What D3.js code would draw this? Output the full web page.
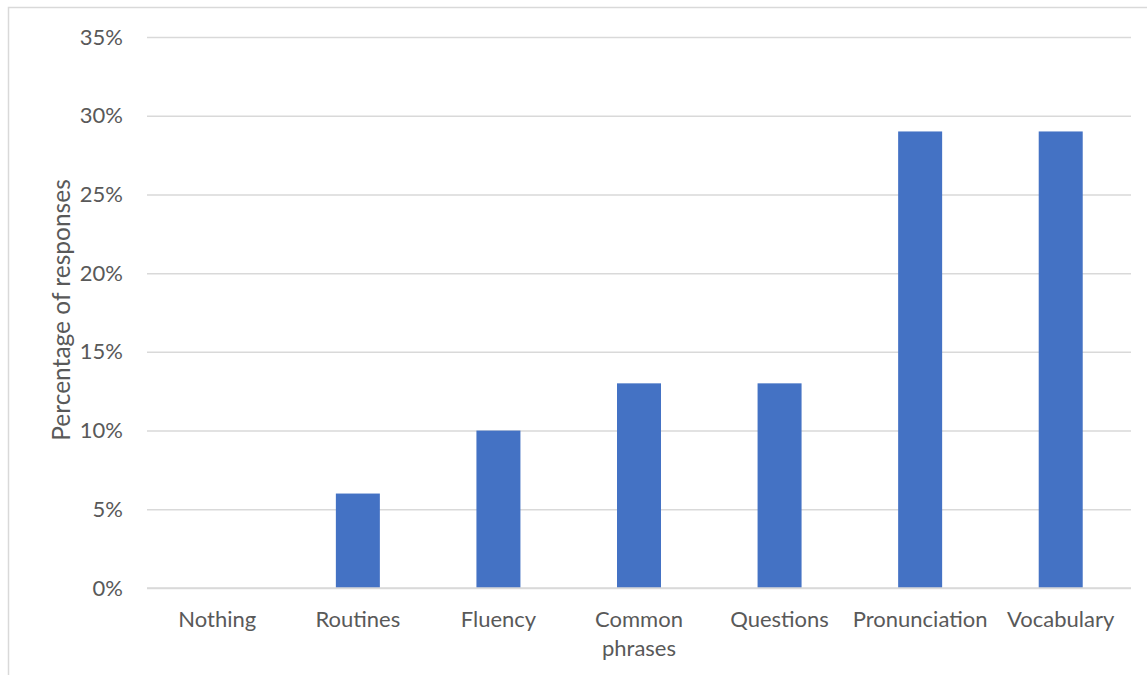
<!DOCTYPE html>
<html>
<head>
<meta charset="utf-8">
<script src="https://cdn.jsdelivr.net/npm/d3@7"></script>
<style>
  html, body { margin: 0; padding: 0; background: #fff; }
  svg { display: block; }
  text { font-family: Lato, "Noto Sans", sans-serif; fill: #595959; }
</style>
</head>
<body>
<svg id="chart" width="1147" height="675"></svg>
<script>
// Share of responses per focus area
const categories = ["Nothing", "Routines", "Fluency", "Common phrases", "Questions", "Pronunciation", "Vocabulary"];
const shares = [0, 0.06, 0.10, 0.13, 0.13, 0.29, 0.29];
const yTicks = [0, 0.05, 0.10, 0.15, 0.20, 0.25, 0.30, 0.35];
const yTitle = "Percentage of responses";

const W = 1147, H = 675;
const plot = { left: 147, right: 1131, top: 37, bottom: 588 };
const fontSize = 22;
const titleSize = 24.5;

const svg = d3.select("#chart");

// Chart frame (the outer border is clipped at right and bottom)
svg.append("rect")
  .attr("x", 8.5).attr("y", 7.5)
  .attr("width", W + 20).attr("height", H + 20)
  .attr("fill", "#fff")
  .attr("stroke", "#d9d9d9").attr("stroke-width", 1.5);

const x = d3.scaleBand()
  .domain(categories)
  .range([plot.left, plot.right])
  .paddingInner(0.687)
  .paddingOuter(0.3435);

const y = d3.scaleLinear()
  .domain([0, 0.35])
  .range([plot.bottom, plot.top]);

// Horizontal gridlines and percent labels
const yAxis = d3.axisLeft(y)
  .tickValues(yTicks)
  .tickFormat(d3.format(".0%"))
  .tickSize(-(plot.right - plot.left))
  .tickPadding(24);

const gy = svg.append("g")
  .attr("transform", `translate(${plot.left},0)`)
  .call(yAxis);
gy.select(".domain").remove();
gy.selectAll(".tick line").attr("stroke", "#d9d9d9").attr("stroke-width", 1.5);
gy.selectAll(".tick text")
  .attr("font-size", fontSize)
  .style("font-family", "Lato, 'Noto Sans', sans-serif")
  .attr("fill", "#595959");

// Bars
svg.append("g")
  .selectAll("rect")
  .data(categories)
  .join("rect")
  .attr("x", d => x(d))
  .attr("width", x.bandwidth())
  .attr("y", (d, i) => y(shares[i]))
  .attr("height", (d, i) => y(0) - y(shares[i]))
  .attr("fill", "#4472c4");

// Baseline
svg.append("line")
  .attr("x1", plot.left).attr("x2", plot.right)
  .attr("y1", y(0)).attr("y2", y(0))
  .attr("stroke", "#d9d9d9").attr("stroke-width", 1.5);

// Category labels, wrapped onto two lines where needed
const wrapAt = { "Common phrases": ["Common", "phrases"] };
const xl = svg.append("g");
categories.forEach(c => {
  const lines = wrapAt[c] || [c];
  const t = xl.append("text")
    .attr("text-anchor", "middle")
    .attr("font-size", fontSize)
    .attr("x", x(c) + x.bandwidth() / 2)
    .attr("y", 627);
  lines.forEach((ln, i) => {
    t.append("tspan")
      .attr("x", x(c) + x.bandwidth() / 2)
      .attr("dy", i === 0 ? 0 : 29)
      .text(ln);
  });
});

// Y axis title
svg.append("text")
  .attr("transform", `translate(70,310) rotate(-90)`)
  .attr("text-anchor", "middle")
  .attr("font-size", titleSize)
  .text(yTitle);
</script>
</body>
</html>
